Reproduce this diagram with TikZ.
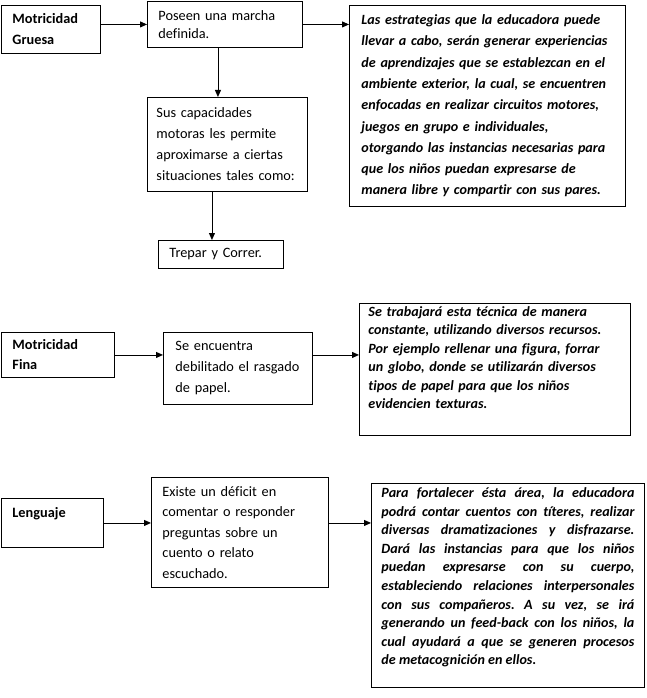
\documentclass[tikz,border=0pt]{standalone}
\usepackage{fontspec}
\setmainfont{Carlito}[Ligatures={NoCommon}]
\usetikzlibrary{arrows.meta,calc}
\begin{document}
\begin{tikzpicture}[x=1pt,y=-1pt,
  box/.style={draw, line width=0.9pt, rectangle, anchor=north west, inner ysep=0pt, align=left},
  fs/.style={font=\fontsize{14.3}{#1}\selectfont\frenchspacing},
  fsb/.style={font=\fontsize{14.3}{#1}\selectfont\bfseries\frenchspacing},
  fsbi/.style={font=\fontsize{14.1}{#1}\selectfont\bfseries\itshape\frenchspacing},
  arr/.style={-{Triangle[length=7pt,width=6pt]}, line width=0.9pt}]
\useasboundingbox (0,0) rectangle (646,698);
% section 1
\node[box, fsb=21, minimum width=99pt, minimum height=48pt, inner xsep=11pt, text width=77pt] (b1) at (1,5) {Motricidad\\Gruesa};
\node[box, fs=18, minimum width=155pt, minimum height=46pt, inner xsep=11pt, text width=133pt] (b2) at (147,1) {Poseen una marcha\\definida.};
\node[box, fsbi=21.3, minimum width=276pt, minimum height=201pt, inner xsep=12pt, text width=252pt] (b3) at (349,5) {Las estrategias que la educadora puede\\llevar a cabo, serán generar experiencias\\de aprendizajes que se establezcan en el\\ambiente exterior, la cual, se encuentren\\enfocadas en realizar circuitos motores,\\juegos en grupo e individuales,\\otorgando las instancias necesarias para\\que los niños puedan expresarse de\\manera libre y compartir con sus pares.};
\node[box, fs=21, minimum width=160pt, minimum height=94pt, inner xsep=9pt, text width=142pt] (b4) at (147,97) {Sus capacidades\\motoras les permite\\aproximarse a ciertas\\situaciones tales como:};
\node[box, fs=21, minimum width=125pt, minimum height=28pt, inner xsep=11pt, text width=103pt] (b5) at (158,240) {Trepar y Correr.};
\draw[arr] (b1.east |- b2.west) -- (b2.west);
\draw[arr] (b2.east) -- (b2.east -| b3.west);
\draw[arr] ([xshift=-7pt]b2.south) -- ([xshift=-7pt]b2.south |- b4.north);
\draw[arr] ([xshift=-9pt]b5.north |- b4.south) -- ([xshift=-9pt]b5.north);
% section 2
\node[box, fsb=20, minimum width=113pt, minimum height=45pt, inner xsep=11pt, text width=91pt] (f1) at (1,332) {Motricidad\\Fina};
\node[box, fs=21, minimum width=149pt, minimum height=72pt, inner xsep=12pt, text width=125pt] (f2) at (163,332) {Se encuentra\\debilitado el rasgado\\de papel.};
\node[box, fsbi=18.5, minimum width=271pt, minimum height=132pt, inner xsep=9pt, text width=253pt] (f3) at (359,303) {Se trabajará esta técnica de manera\\constante, utilizando diversos recursos.\\Por ejemplo rellenar una figura, forrar\\un globo, donde se utilizarán diversos\\tipos de papel para que los niños\\evidencien texturas.\par\vspace{5pt}\leavevmode};
\draw[arr] (f1.east) -- (f1.east -| f2.west);
\draw[arr] (f2.east |- f1.east) -- (f3.west |- f1.east);
% section 3
\node[box, fsb=21, minimum width=102pt, minimum height=49pt, inner xsep=11pt, text width=80pt] (l1) at (1,498) {Lenguaje\\\mbox{}};
\node[box, fs=20.5, minimum width=177pt, minimum height=110pt, inner xsep=11pt, text width=155pt] (l2) at (151,477) {Existe un déficit en\\comentar o responder\\preguntas sobre un\\cuento o relato\\escuchado.};
\node[box, fsbi=18.6, align=justify, minimum width=273pt, minimum height=204pt, inner xsep=10pt, text width=253pt] (l3) at (371,483) {\emergencystretch=3em\hyphenpenalty=10000 Para fortalecer ésta área, la educadora\linebreak podrá contar cuentos con títeres, realizar\linebreak diversas dramatizaciones y disfrazarse.\linebreak Dará las instancias para que los niños\linebreak puedan expresarse con su cuerpo,\linebreak estableciendo relaciones interpersonales\linebreak con sus compañeros. A su vez, se irá\linebreak generando un feed-back con los niños, la\linebreak cual ayudará a que se generen procesos\linebreak de metacognición en ellos.\par\vspace{0pt}\leavevmode};
\draw[arr] (l1.east) -- (l1.east -| l2.west);
\draw[arr] (l2.east |- l1.east) -- (l3.west |- l1.east);
\end{tikzpicture}
\end{document}
